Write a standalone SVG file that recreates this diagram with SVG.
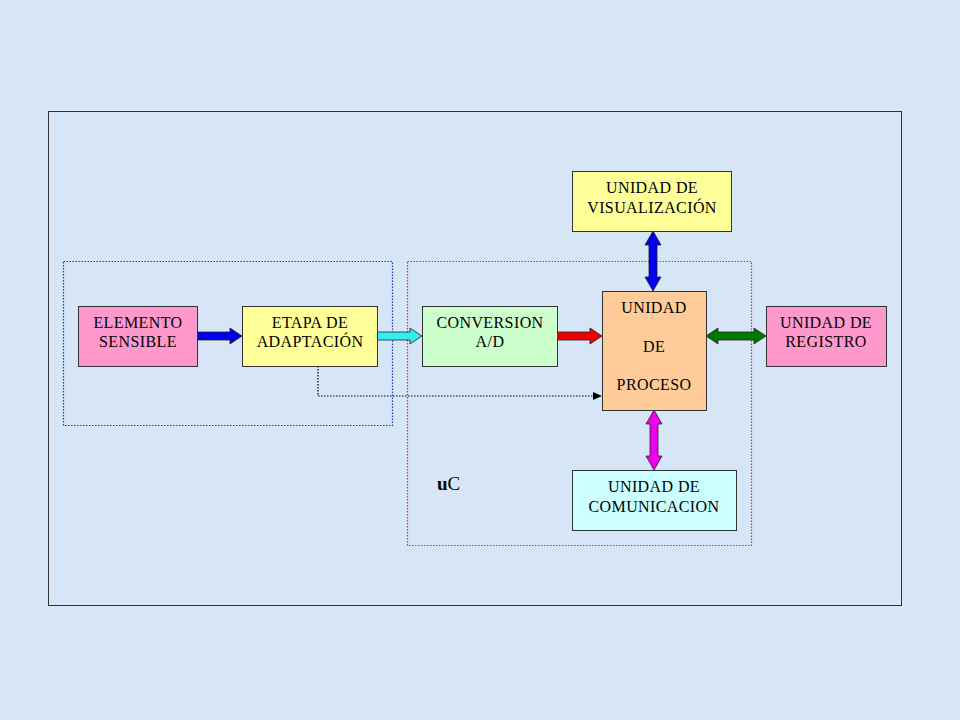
<svg xmlns="http://www.w3.org/2000/svg" width="960" height="720" viewBox="0 0 960 720">
  <style>
    .box { stroke: #333333; stroke-width: 1; }
    .lbl { font-family: "Liberation Serif", "Times New Roman", serif; font-size: 16px; fill: #000000; text-anchor: middle; letter-spacing: 0.4px; }
    .arr { stroke: #222222; stroke-width: 0.8; stroke-linejoin: miter; }
  </style>

  <rect x="0" y="0" width="960" height="720" fill="#d7e6f6"/>

  <!-- frame -->
  <rect x="48.5" y="111.5" width="853" height="494" fill="none" stroke="#333333" stroke-width="1"/>

  <!-- dotted groupings -->
  <rect x="63.5" y="261.5" width="329" height="164" fill="none" stroke="#2233cc" stroke-width="1.2" stroke-dasharray="1.5 1.5"/>
  <rect x="407.5" y="261.5" width="344" height="284" fill="none" stroke="#ee2244" stroke-width="1.2" stroke-dasharray="1.5 1.5"/>

  <text x="437" y="490" font-family="Liberation Serif, Times New Roman, serif" font-size="19" fill="#000"><tspan font-weight="bold">u</tspan>C</text>

  <g id="connectors">
    <polygon class="arr" fill="#0000ee" points="197,332 230,332 230,328 242,336 230,344 230,340 197,340"/>
    <polygon class="arr" fill="#33eeee" points="377,332 410,332 410,328 422,336 410,344 410,340 377,340"/>
    <polygon class="arr" fill="#ee0000" points="557,332 590,332 590,328 602,336 590,344 590,340 557,340"/>
    <polygon class="arr" fill="#007700" points="706,336 718,328 718,332 754,332 754,328 766,336 754,344 754,340 718,340 718,344"/>
    <polygon class="arr" fill="#0000ee" points="653,231 661,245 657,245 657,277 661,277 653,291 645,277 649,277 649,245 645,245"/>
    <polygon class="arr" fill="#ee00ee" points="654,410 662,424 658,424 658,456 662,456 654,470 646,456 650,456 650,424 646,424"/>
    <path d="M318 366 V396 H594" fill="none" stroke="#000000" stroke-width="1.2" stroke-dasharray="1.5 1.5"/>
    <polygon fill="#000000" points="593,392 602,396 593,400"/>
  </g>

  <g id="elemento">
    <rect class="box" x="78.5" y="306.5" width="119" height="60" fill="#ff99cc"/>
    <text class="lbl" x="138" y="328">ELEMENTO</text>
    <text class="lbl" x="138" y="347">SENSIBLE</text>
  </g>

  <g id="etapa">
    <rect class="box" x="242.5" y="306.5" width="135" height="60" fill="#ffff99"/>
    <text class="lbl" x="310" y="328">ETAPA DE</text>
    <text class="lbl" x="310" y="347">ADAPTACIÓN</text>
  </g>

  <g id="conversion">
    <rect class="box" x="422.5" y="306.5" width="135" height="60" fill="#ccffcc"/>
    <text class="lbl" x="490" y="328">CONVERSION</text>
    <text class="lbl" x="490" y="347">A/D</text>
  </g>

  <g id="proceso">
    <rect class="box" x="602.5" y="291.5" width="104" height="119" fill="#ffcc99"/>
    <text class="lbl" x="654" y="313">UNIDAD</text>
    <text class="lbl" x="654" y="352">DE</text>
    <text class="lbl" x="654" y="390">PROCESO</text>
  </g>

  <g id="registro">
    <rect class="box" x="766.5" y="306.5" width="120" height="60" fill="#ff99cc"/>
    <text class="lbl" x="826" y="328">UNIDAD DE</text>
    <text class="lbl" x="826" y="347">REGISTRO</text>
  </g>

  <g id="visualizacion">
    <rect class="box" x="572.5" y="171.5" width="159" height="60" fill="#ffff99"/>
    <text class="lbl" x="652" y="193">UNIDAD DE</text>
    <text class="lbl" x="652" y="213">VISUALIZACIÓN</text>
  </g>

  <g id="comunicacion">
    <rect class="box" x="572.5" y="470.5" width="164" height="60" fill="#ccffff"/>
    <text class="lbl" x="654" y="492">UNIDAD DE</text>
    <text class="lbl" x="654" y="512">COMUNICACION</text>
  </g>
</svg>
